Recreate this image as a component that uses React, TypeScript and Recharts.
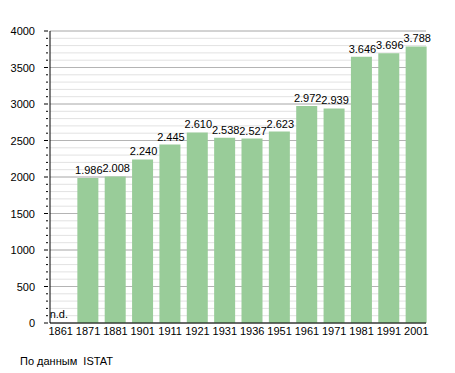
import { BarChart, Bar, XAxis, YAxis, CartesianGrid, LabelList } from "recharts";

const years = ["1861", "1871", "1881", "1901", "1911", "1921", "1931", "1936", "1951", "1961", "1971", "1981", "1991", "2001"];
const population: (number | null)[] = [null, 1986, 2008, 2240, 2445, 2610, 2538, 2527, 2623, 2972, 2939, 3646, 3696, 3788];
const majorTicks = [0, 500, 1000, 1500, 2000, 2500, 3000, 3500, 4000];
const minorTicks = Array.from({ length: 41 }, (_, i) => i * 100);

const data = years.map((year, i) => ({ year, value: population[i] }));

const FONT = "'Liberation Sans', Arial, sans-serif";

function formatValue(v: number) {
  const s = String(v);
  return s.length > 3 ? s.slice(0, s.length - 3) + "." + s.slice(-3) : s;
}

function YTick(props: any) {
  const { x, y, payload } = props;
  const major = payload.value % 500 === 0;
  return (
    <g>
      <line x1={x - (major ? 4 : 2)} x2={x} y1={y} y2={y} stroke="#000" strokeWidth={1} />
      {major && (
        <text x={x - 13} y={y} dy={4} textAnchor="end" fontSize={11} fill="#000" fontFamily={FONT}>
          {payload.value}
        </text>
      )}
    </g>
  );
}

function XTick(props: any) {
  const { x, y, payload, index } = props;
  const missing = population[index] == null;
  return (
    <g>
      {missing && (
        <text x={x - 11} y={y - 5} fontSize={11} fill="#000" fontFamily={FONT}>
          n.d.
        </text>
      )}
      <text x={x} y={y + 4} dy="0.71em" textAnchor="middle" fontSize={11} fill="#000" fontFamily={FONT}>
        {payload.value}
      </text>
    </g>
  );
}

function ValueLabel(props: any) {
  const { x, y, width, value } = props;
  if (value == null) return null;
  return (
    <text x={x + width / 2 + 1} y={y - 4} textAnchor="middle" fontSize={11} fill="#000" fontFamily={FONT}>
      {formatValue(value)}
    </text>
  );
}

export default function App() {
  return (
    <div style={{ position: "absolute", left: 0, top: 0, width: 455, height: 373, background: "#fff" }}>
      <BarChart
        width={455}
        height={373}
        data={data}
        margin={{ top: 31, right: 29, left: 0, bottom: 30 }}
        barSize={21}
      >
        <CartesianGrid vertical={false} horizontalValues={minorTicks} stroke="#e2e2e2" strokeWidth={1} />
        <CartesianGrid vertical={false} horizontalValues={majorTicks} stroke="#b4b4b4" strokeWidth={1} />
        <XAxis
          dataKey="year"
          height={20}
          tickLine={false}
          tickSize={0}
          tickMargin={0}
          axisLine={{ stroke: "#000" }}
          padding={{ left: -3, right: -4 }}
          interval={0}
          tick={<XTick />}
        />
        <YAxis
          width={50}
          domain={[0, 4000]}
          ticks={minorTicks}
          interval={0}
          tickLine={false}
          tickSize={0}
          axisLine={{ stroke: "#000" }}
          tick={<YTick />}
        />
        <Bar dataKey="value" fill="#99cc99" isAnimationActive={false}>
          <LabelList dataKey="value" content={<ValueLabel />} />
        </Bar>
      </BarChart>
      <div style={{ position: "absolute", left: 20, top: 355, fontSize: 11, fontFamily: FONT, color: "#000" }}>
        По данным&nbsp; ISTAT
      </div>
    </div>
  );
}
